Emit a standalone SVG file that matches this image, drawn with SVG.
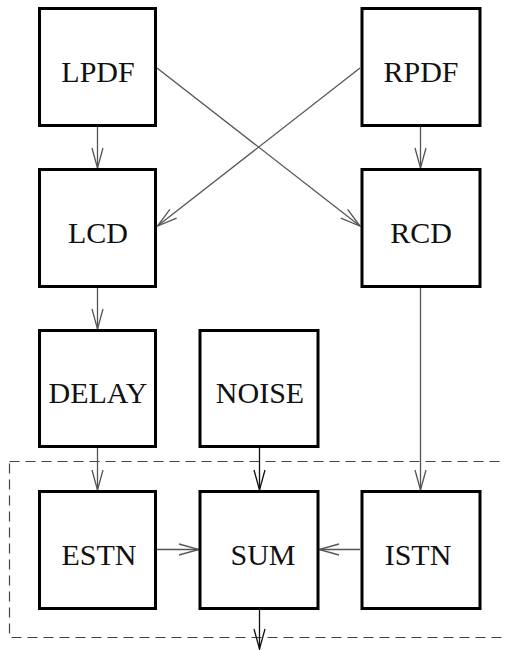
<svg xmlns="http://www.w3.org/2000/svg" width="505" height="650" viewBox="0 0 505 650">
<style>
.box{fill:#fff;stroke:#000;stroke-width:3}
.lbl{font-family:"Liberation Serif","Times New Roman",serif;font-size:30px;fill:#111;text-anchor:middle}
.c{fill:none;stroke:#555;stroke-width:1.3}
.cd{fill:none;stroke:#111;stroke-width:1.3}
.dash{fill:none;stroke:#444;stroke-width:1.2;stroke-dasharray:10 6}
</style>
<defs>
<marker id="ah" markerUnits="userSpaceOnUse" markerWidth="24" markerHeight="14" refX="20" refY="6" orient="auto" overflow="visible">
<path d="M0,0.5 L20,6 L0,11.5" fill="none" stroke="#555" stroke-width="1.3"/>
</marker>
<marker id="ahd" markerUnits="userSpaceOnUse" markerWidth="24" markerHeight="14" refX="20" refY="6" orient="auto" overflow="visible">
<path d="M0,0.5 L20,6 L0,11.5" fill="none" stroke="#111" stroke-width="1.3"/>
</marker>
</defs>
<rect class="dash" x="9.5" y="461.5" width="510" height="176"/>
<g id="connectors">
<line class="c" x1="97.5" y1="126" x2="97.5" y2="168" marker-end="url(#ah)"/>
<line class="c" x1="420.5" y1="126" x2="420.5" y2="168" marker-end="url(#ah)"/>
<line class="c" x1="157" y1="68" x2="360" y2="226" marker-end="url(#ah)"/>
<line class="c" x1="360" y1="68" x2="157.5" y2="226" marker-end="url(#ah)"/>
<line class="c" x1="97.5" y1="287" x2="97.5" y2="329" marker-end="url(#ah)"/>
<line class="c" x1="420.5" y1="287" x2="420.5" y2="490" marker-end="url(#ah)"/>
<line class="c" x1="97.5" y1="448" x2="97.5" y2="490" marker-end="url(#ah)"/>
<line class="cd" x1="259.5" y1="448" x2="259.5" y2="490" marker-end="url(#ahd)"/>
<line class="c" x1="157" y1="549.5" x2="199" y2="549.5" marker-end="url(#ah)"/>
<line class="c" x1="360" y1="549.5" x2="319" y2="549.5" marker-end="url(#ah)"/>
<line class="cd" x1="259.5" y1="610" x2="259.5" y2="649" marker-end="url(#ahd)"/>
</g>
<g id="LPDF"><rect class="box" x="39.5" y="8.5" width="116" height="117"/><text class="lbl" x="98" y="81.5">LPDF</text></g>
<g id="RPDF"><rect class="box" x="362" y="8.5" width="118" height="117"/><text class="lbl" x="421" y="81.5">RPDF</text></g>
<g id="LCD"><rect class="box" x="39.5" y="169.5" width="116" height="117"/><text class="lbl" x="98" y="242.5">LCD</text></g>
<g id="RCD"><rect class="box" x="362" y="169.5" width="118" height="117"/><text class="lbl" x="421" y="242.5">RCD</text></g>
<g id="DELAY"><rect class="box" x="39.5" y="330.5" width="116" height="116"/><text class="lbl" x="98" y="403">DELAY</text></g>
<g id="NOISE"><rect class="box" x="200" y="330.5" width="118" height="116"/><text class="lbl" x="260" y="403">NOISE</text></g>
<g id="ESTN"><rect class="box" x="39.5" y="491.5" width="116" height="117"/><text class="lbl" x="99" y="565">ESTN</text></g>
<g id="SUM"><rect class="box" x="200" y="491.5" width="118" height="117"/><text class="lbl" x="263" y="565">SUM</text></g>
<g id="ISTN"><rect class="box" x="362" y="491.5" width="118" height="117"/><text class="lbl" x="418" y="565">ISTN</text></g>
</svg>
